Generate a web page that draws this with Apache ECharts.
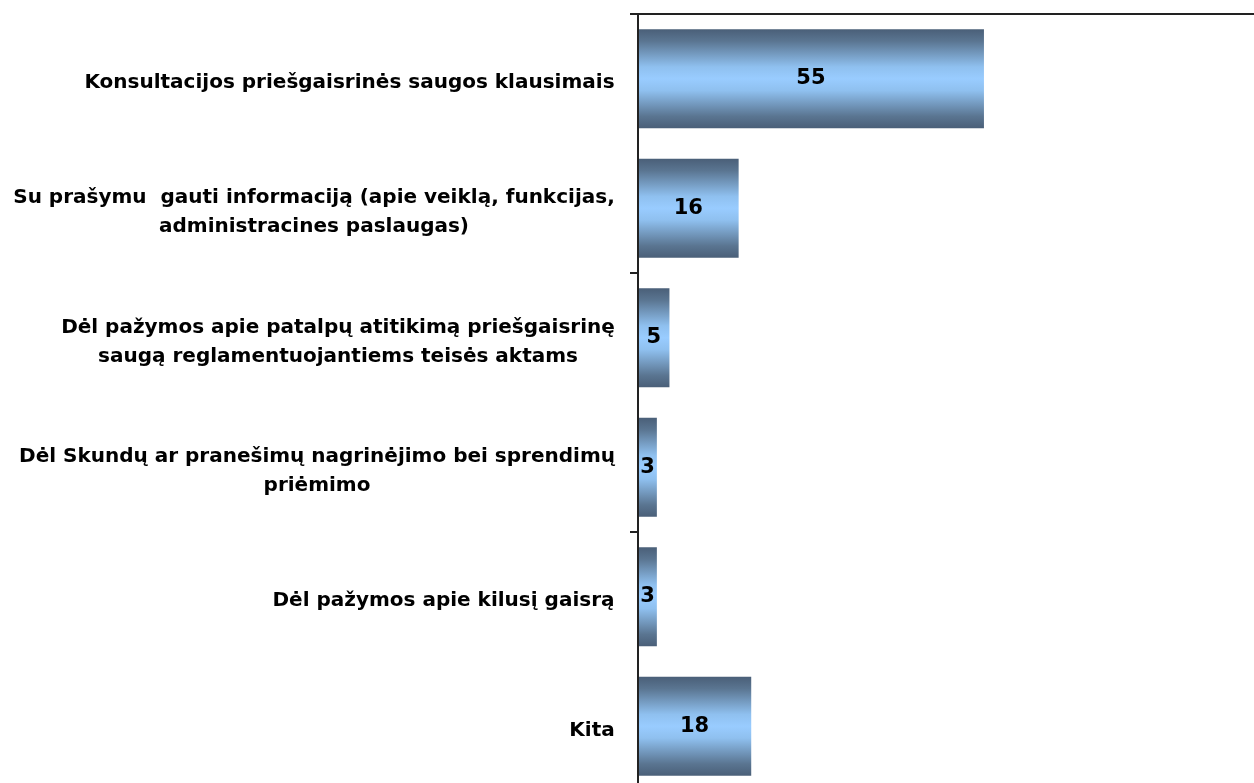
<!DOCTYPE html>
<html>
<head>
<meta charset="utf-8">
<script src="https://cdn.jsdelivr.net/npm/echarts@6/dist/echarts.min.js"></script>
<style>
  html, body { margin: 0; padding: 0; background: #fff; overflow: hidden; }
  /* the original picture is cropped at the right and bottom edges of the plot */
  #main { width: 1267px; height: 791px; }
</style>
</head>
<body>
<div id="main"></div>
<script>
// categories (top to bottom) and counts
var categories = [
  "Konsultacijos priešgaisrinės saugos klausimais",
  "Su prašymu  gauti informaciją (apie veiklą, funkcijas,\nadministracines paslaugas)",
  "Dėl pažymos apie patalpų atitikimą priešgaisrinę\nsaugą reglamentuojantiems teisės aktams",
  "Dėl Skundų ar pranešimų nagrinėjimo bei sprendimų\npriėmimo",
  "Dėl pažymos apie kilusį gaisrą",
  "Kita"
];
var values = [55, 16, 5, 3, 3, 18];

var fontFam = "'DejaVu Sans', Verdana, sans-serif";
var labelSize = 20;

// measure label lines so multi-line labels can be centred inside a right-aligned block
var cv = document.createElement("canvas").getContext("2d");
cv.font = "bold " + labelSize + "px " + fontFam;
var rich = {};
categories.forEach(function (c, i) {
  var w = 0;
  c.split("\n").forEach(function (l) { w = Math.max(w, cv.measureText(l).width); });
  rich["c" + i] = {
    width: Math.ceil(w) + 2,
    align: "center",
    fontFamily: fontFam,
    fontWeight: "bold",
    fontSize: labelSize,
    lineHeight: 29,
    color: "#000"
  };
});

var chart = echarts.init(document.getElementById("main"));
chart.setOption({
  animation: false,
  grid: { left: 638, top: 14, right: 0, bottom: 0, containLabel: false },
  xAxis: {
    type: "value",
    position: "top",
    min: 0,
    max: 100,
    axisLine: { show: true, lineStyle: { color: "#222", width: 2 } },
    axisTick: { show: false },
    axisLabel: { show: false },
    splitLine: { show: false }
  },
  yAxis: {
    type: "category",
    inverse: true,
    data: categories,
    z: 5,
    axisLine: { show: true, lineStyle: { color: "#222", width: 2 } },
    axisTick: { show: true, interval: 1, length: 8, lineStyle: { color: "#222", width: 2 } },
    axisLabel: {
      margin: 22,
      padding: [9, 0, 0, 0],
      formatter: function (v, i) {
        return v.split("\n").map(function (l) { return "{c" + i + "|" + l + "}"; }).join("\n");
      },
      rich: rich
    }
  },
  series: [
    {
      type: "bar",
      data: values,
      barCategoryGap: "23.5%",
      itemStyle: {
        color: new echarts.graphic.LinearGradient(0, 0, 0, 1, [
          { offset: 0, color: "#4a5f78" },
          { offset: 0.12, color: "#5a7591" },
          { offset: 0.38, color: "#8fc0ef" },
          { offset: 0.5, color: "#99ccff" },
          { offset: 0.62, color: "#8fc0ef" },
          { offset: 0.88, color: "#5a7591" },
          { offset: 1, color: "#4a5f78" }
        ])
      },
      label: {
        show: true,
        position: "inside",
        color: "#000",
        fontFamily: fontFam,
        fontWeight: "bold",
        fontSize: 21
      }
    }
  ]
});
</script>
</body>
</html>
